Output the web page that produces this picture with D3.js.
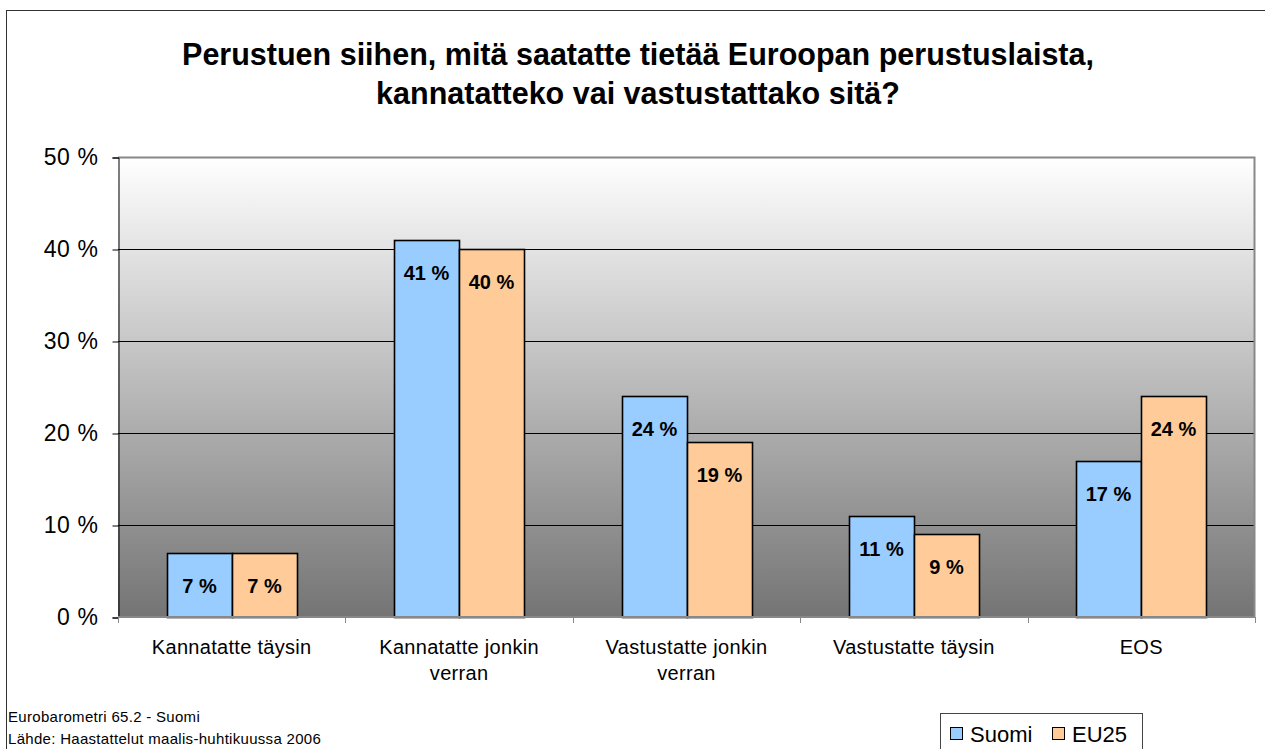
<!DOCTYPE html>
<html>
<head>
<meta charset="utf-8">
<script src="https://cdn.jsdelivr.net/npm/d3@7"></script>
<style>
  body { margin: 0; background: #fff; }
  svg { display: block; font-family: "Liberation Sans", Arial, sans-serif; }
</style>
</head>
<body>
<div id="chart"></div>
<script>
// data
const categories = [
  ["Kannatatte täysin"],
  ["Kannatatte jonkin", "verran"],
  ["Vastustatte jonkin", "verran"],
  ["Vastustatte täysin"],
  ["EOS"]
]
const seriesNames = ["Suomi", "EU25"]
const suomi = [7, 41, 24, 11, 17]
const eu25 = [7, 40, 19, 9, 24]
const yTicks = [0, 10, 20, 30, 40, 50]

const W = 1265, H = 749
const margin = {top: 157, right: 10, bottom: 132, left: 118},
    width = 1255 - margin.left,
    height = 617 - margin.top

const svg = d3.select("#chart")
  .append("svg")
    .attr("width", W)
    .attr("height", H)

// outer frame
svg.append("rect")
  .attr("x", 6.5).attr("y", 10.5)
  .attr("width", W + 10).attr("height", H + 10)
  .attr("fill", "#fff")
  .attr("stroke", "#333")

// title
svg.append("text")
  .attr("x", 638).attr("y", 65)
  .attr("text-anchor", "middle")
  .attr("font-size", 30.5).attr("font-weight", "bold")
  .selectAll("tspan")
  .data(["Perustuen siihen, mitä saatatte tietää Euroopan perustuslaista,",
         "kannatatteko vai vastustattako sitä?"])
  .join("tspan")
    .attr("x", 638)
    .attr("dy", (d, i) => i ? 39 : 0)
    .text(d => d)

const defs = svg.append("defs")
const grad = defs.append("linearGradient")
  .attr("id", "bg").attr("x1", 0).attr("y1", 0).attr("x2", 0).attr("y2", 1)
grad.append("stop").attr("offset", "0%").attr("stop-color", "#ffffff")
grad.append("stop").attr("offset", "100%").attr("stop-color", "#747474")

const g = svg.append("g")
  .attr("transform", `translate(${margin.left},${margin.top})`)

g.append("rect")
  .attr("width", width).attr("height", height)
  .attr("fill", "url(#bg)")

const x = d3.scaleBand()
  .domain(d3.range(categories.length))
  .range([0, width])

const y = d3.scaleLinear()
  .domain([0, 50])
  .range([height, 0])

// gridlines
g.append("g")
  .selectAll("line")
  .data(yTicks.filter(t => t > 0 && t < 50))
  .join("line")
    .attr("x1", 0).attr("x2", width)
    .attr("y1", d => y(d) + 0.5).attr("y2", d => y(d) + 0.5)
    .attr("stroke", "#000")

// plot frame (top + right gray)
g.append("path")
  .attr("d", `M0,0.5H${width - 0.5}V${height}`)
  .attr("fill", "none")
  .attr("stroke", "#888")
  .attr("stroke-width", 2)

// bars
const barW = 65
const groups = g.append("g")
  .selectAll("g")
  .data(categories.map((c, i) => i))
  .join("g")
    .attr("transform", i => `translate(${Math.round(x(i) + x.bandwidth() / 2 - barW)},0)`)

const colors = ["#99ccff", "#ffcc99"]
const vals = [suomi, eu25]

groups.each(function(i) {
  const gg = d3.select(this)
  vals.forEach((s, k) => {
    gg.append("rect")
      .attr("x", k * barW + 0.5)
      .attr("y", Math.round(y(s[i])) + 0.5)
      .attr("width", barW)
      .attr("height", height - Math.round(y(s[i])))
      .attr("fill", colors[k])
      .attr("stroke", "#000")
      .attr("stroke-width", 1.6)
    gg.append("text")
      .attr("x", k * barW + barW / 2)
      .attr("y", y(s[i]) + 40)
      .attr("text-anchor", "middle")
      .attr("font-size", 20).attr("font-weight", "bold")
      .text(s[i] + " %")
  })
})

// y axis
const yAxis = g.append("g")
  .attr("transform", "translate(0.5,0.5)")
  .call(d3.axisLeft(y).tickValues(yTicks).tickSize(6).tickFormat(d => d + " %"))
yAxis.select(".domain").attr("stroke", "#000")
yAxis.selectAll("text")
  .attr("font-size", 23).attr("font-family", "Liberation Sans, Arial, sans-serif")
  .attr("letter-spacing", 0.6)
  .attr("fill", "#000").attr("dx", -11)

// x axis
const xAxisG = g.append("g")
  .attr("transform", `translate(0,${height})`)
xAxisG.append("line")
  .attr("x1", 0).attr("x2", width)
  .attr("stroke", "#888").attr("stroke-width", 2)
xAxisG.selectAll(".tk")
  .data(d3.range(categories.length + 1))
  .join("line")
    .attr("class", "tk")
    .attr("x1", i => Math.round(i * x.bandwidth()) + 0.5).attr("x2", i => Math.round(i * x.bandwidth()) + 0.5)
    .attr("y1", 0).attr("y2", 6)
    .attr("stroke", "#888")
xAxisG.selectAll(".lbl")
  .data(categories)
  .join("text")
    .attr("class", "lbl")
    .attr("text-anchor", "middle")
    .attr("font-size", 20)
    .attr("letter-spacing", 0.3)
    .attr("y", 37)
    .selectAll("tspan")
    .data((d, i) => d.map(t => ({t, i})))
    .join("tspan")
      .attr("x", d => x(d.i) + x.bandwidth() / 2)
      .attr("dy", (d, j) => j ? 26 : 0)
      .text(d => d.t)

// footnote
svg.append("text")
  .attr("x", 8).attr("y", 722)
  .attr("font-size", 15).attr("letter-spacing", 0.3)
  .text("Eurobarometri 65.2 - Suomi")
svg.append("text")
  .attr("x", 8).attr("y", 744)
  .attr("font-size", 15).attr("letter-spacing", 0.3)
  .text("Lähde: Haastattelut maalis-huhtikuussa 2006")

// legend
const leg = svg.append("g").attr("transform", "translate(940,713)")
leg.append("rect")
  .attr("x", 0.5).attr("y", 0.5)
  .attr("width", 202).attr("height", 45)
  .attr("fill", "#fff").attr("stroke", "#444")
const legX = [10, 112]
seriesNames.forEach((n, k) => {
  leg.append("rect")
    .attr("x", legX[k] + 0.5).attr("y", 14.5)
    .attr("width", 12).attr("height", 12)
    .attr("fill", colors[k]).attr("stroke", "#000")
  leg.append("text")
    .attr("x", legX[k] + 20).attr("y", 29)
    .attr("font-size", 22)
    .text(n)
})
</script>
</body>
</html>
